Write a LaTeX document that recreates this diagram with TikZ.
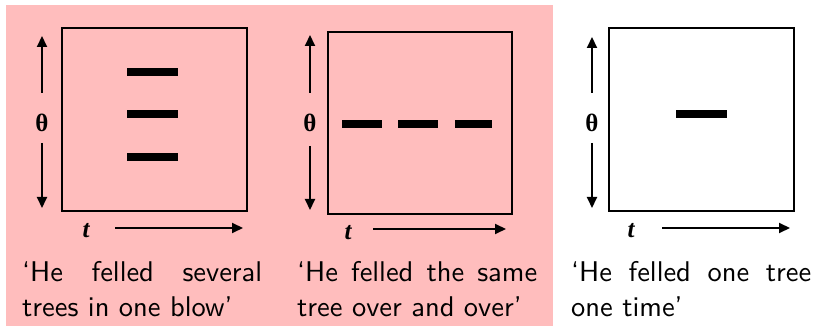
\documentclass[tikz,border=0pt]{standalone}
\usepackage{fontspec}
\newfontfamily\serifb{Liberation Serif}
\newfontfamily\capfont{lmsans10-regular.otf}
\usetikzlibrary{arrows.meta}
\definecolor{pinkbg}{RGB}{255,189,189}
\tikzset{
  frame/.style={draw=black,line width=2.2pt},
  bar/.style={line width=8pt,black},
  axis/.style={line width=2pt,-{Triangle[length=11pt,width=10pt]}},
  thetalab/.style={inner sep=0pt,font=\serifb\bfseries\fontsize{25}{25}\selectfont},
  tlab/.style={inner sep=0pt,font=\serifb\bfseries\itshape\fontsize{25}{25}\selectfont},
  caption/.style={anchor=north west,inner sep=0pt,text width=240pt,align=justify,
    font=\capfont\fontsize{28.5}{35}\selectfont}
}
\newcommand{\nohyph}{\hyphenpenalty=10000 \tolerance=10000 \relax}
\begin{document}
\begin{tikzpicture}[x=1pt,y=-1pt]
\useasboundingbox (0,0) rectangle (814,328);
\fill[pinkbg] (6,5) rectangle (553,326);
% panel 1
\draw[frame] (62,28) rectangle (247,211);
\node[thetalab] (th1) at (42,123) {θ};
\coordinate (u1a) at (42,93); \coordinate (u1b) at (42,36);
\coordinate (d1a) at (42,143); \coordinate (d1b) at (42,208);
\draw[axis] (u1a) -- (u1b);
\draw[axis] (d1a) -- (d1b);
\node[tlab] (t1) at (86,231) {t};
\coordinate (r1a) at (115,228); \coordinate (r1b) at (243,228);
\draw[axis] (r1a) -- (r1b);
\draw[bar] (127,72) -- (178,72);
\draw[bar] (127,114) -- (178,114);
\draw[bar] (127,157) -- (178,157);
\node[caption] (c1) at (22,261) {\nohyph ‘He felled several trees in one blow’};
% panel 2
\draw[frame] (328,32) rectangle (512,214);
\node[thetalab] (th2) at (310,123) {θ};
\coordinate (u2a) at (310,93); \coordinate (u2b) at (310,35);
\coordinate (d2a) at (310,146); \coordinate (d2b) at (310,210);
\draw[axis] (u2a) -- (u2b);
\draw[axis] (d2a) -- (d2b);
\node[tlab] (t2) at (348,233) {t};
\coordinate (r2a) at (373,229); \coordinate (r2b) at (506,229);
\draw[axis] (r2a) -- (r2b);
\draw[bar] (342,124) -- (382,124);
\draw[bar] (398,124) -- (438,124);
\draw[bar] (455,124) -- (492,124);
\node[caption] (c2) at (297,261) {\nohyph ‘He felled the same tree over and over’};
% panel 3
\draw[frame] (609,28) rectangle (794,211);
\node[thetalab] (th3) at (592,123) {θ};
\coordinate (u3a) at (592,93); \coordinate (u3b) at (592,37);
\coordinate (d3a) at (592,143); \coordinate (d3b) at (592,208);
\draw[axis] (u3a) -- (u3b);
\draw[axis] (d3a) -- (d3b);
\node[tlab] (t3) at (631,231) {t};
\coordinate (r3a) at (662,228); \coordinate (r3b) at (790,228);
\draw[axis] (r3a) -- (r3b);
\draw[bar] (676,114) -- (727,114);
\node[caption] (c3) at (571,261) {\nohyph ‘He felled one tree one time’};
\end{tikzpicture}
\end{document}
